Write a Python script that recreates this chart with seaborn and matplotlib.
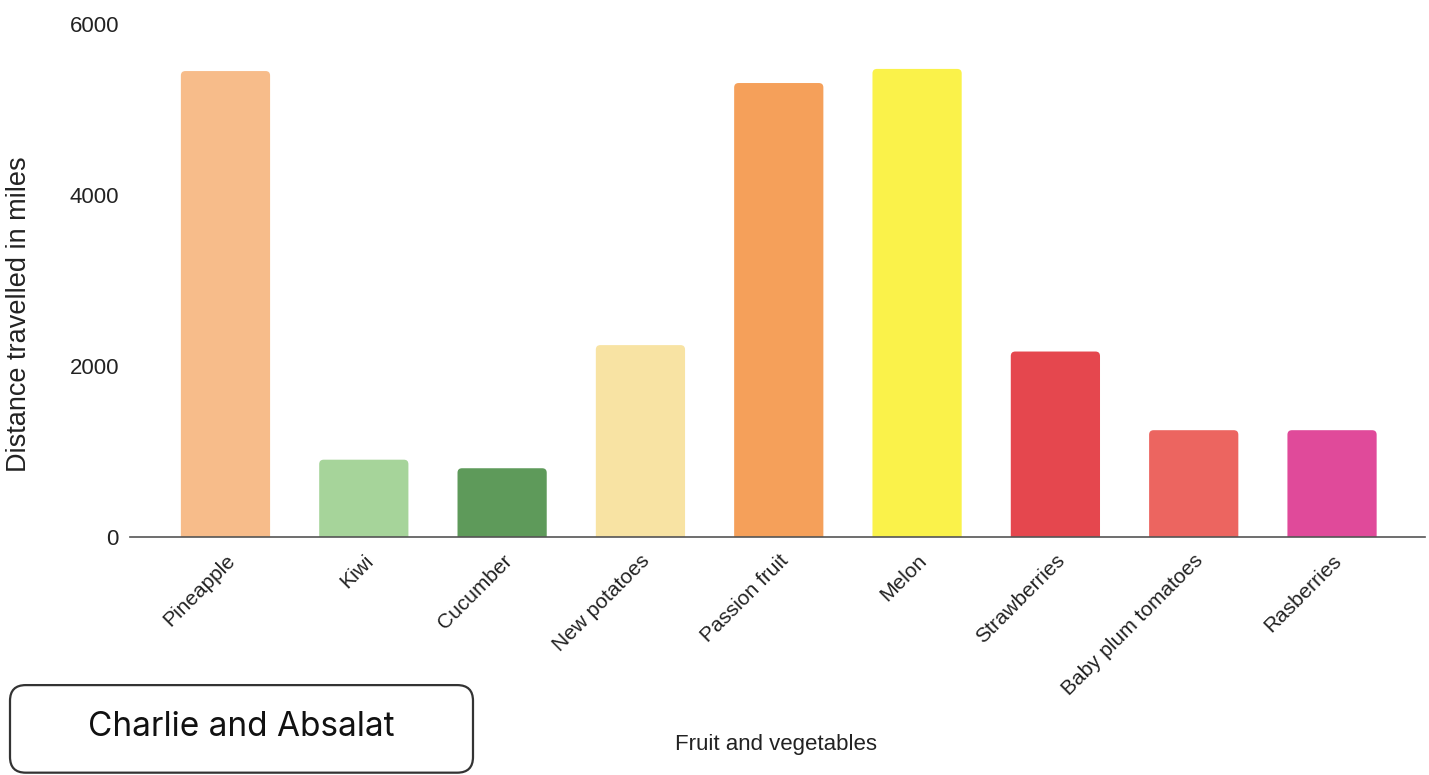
import matplotlib
matplotlib.use("Agg")
import matplotlib.pyplot as plt
import seaborn as sns
import pandas as pd
from matplotlib.patches import FancyBboxPatch

categories = ["Pineapple", "Kiwi", "Cucumber", "New potatoes", "Passion fruit",
              "Melon", "Strawberries", "Baby plum tomatoes", "Rasberries"]
distances = [5450, 905, 805, 2245, 5310, 5475, 2170, 1250, 1250]
bar_colors = ["#F7BC8A", "#A6D49A", "#5E9A5A", "#F8E3A3", "#F5A05A",
              "#FAF24A", "#E5474E", "#EC6560", "#E04A9A"]
y_ticks = [0, 2000, 4000, 6000]

sns.set_theme(style="white")
plt.rcParams["font.family"] = ["Liberation Sans", "DejaVu Sans"]

df = pd.DataFrame({"item": categories, "miles": distances})

fig = plt.figure(figsize=(14.29, 7.75), dpi=100)
ax = fig.add_axes([0.091, 0.307, 0.906, 0.662])
sns.barplot(data=df, x="item", y="miles", hue="item", palette=bar_colors,
            legend=False, width=0.645, ax=ax, saturation=1)

ax.set_xlim(-0.69, 8.67)
ax.set_ylim(0, 6000)

# round the top corners of the seaborn bars (bottom part is clipped below zero)
fig.canvas.draw()
px_x = ax.transData.transform((1, 0))[0] - ax.transData.transform((0, 0))[0]
px_y = ax.transData.transform((0, 1000))[1] - ax.transData.transform((0, 0))[1]
aspect = (1000 / px_y) / (1 / px_x)
r = 4.5 / px_x
for p in list(ax.patches):
    x, y = p.get_x(), p.get_y()
    w, h = p.get_width(), p.get_height()
    fc = p.get_facecolor()
    p.set_visible(False)
    ext = r * aspect * 2
    fb = FancyBboxPatch((x, y - ext), w, h + ext,
                        boxstyle=f"round,pad=0,rounding_size={r}",
                        mutation_aspect=aspect, facecolor=fc, edgecolor="none",
                        zorder=p.get_zorder())
    ax.add_patch(fb)

ax.set_yticks(y_ticks)
ax.set_yticklabels([str(t) for t in y_ticks], fontsize=16, color="#222222")
ax.tick_params(axis="y", length=0, pad=8)
ax.tick_params(axis="x", length=0, pad=10)
ax.set_xticks(range(len(categories)))
ax.set_xticklabels(categories, rotation=45, ha="right", rotation_mode="anchor",
                   fontsize=15, color="#222222")
for s in ["left", "right", "top"]:
    ax.spines[s].set_visible(False)
ax.spines["bottom"].set_color("#555555")
ax.spines["bottom"].set_linewidth(1.2)
ax.spines["bottom"].set_zorder(5)
ax.grid(False)
ax.set_ylabel("")
ax.set_xlabel("")
fig.text(0.0135, 0.595, "Distance travelled in miles", rotation=90,
         ha="center", va="center", fontsize=19.5, color="#222222")
fig.text(0.543, 0.039, "Fruit and vegetables", ha="center", va="center",
         fontsize=16, color="#222222")

box = FancyBboxPatch((0.007, 0.003), 0.324, 0.113, transform=fig.transFigure,
                     boxstyle="round,pad=0,rounding_size=0.011",
                     facecolor="white", edgecolor="#333333", linewidth=1.6,
                     mutation_aspect=1.84)
fig.patches.append(box)
fig.text(0.169, 0.062, "Charlie and Absalat", ha="center", va="center",
         fontsize=24, color="#111111", family=["Inter", "DejaVu Sans"])

fig.savefig("out.png", dpi=100)
